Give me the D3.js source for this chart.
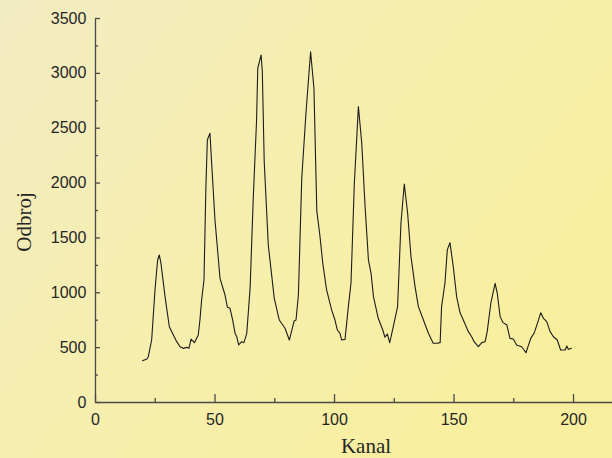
<!DOCTYPE html>
<html>
<head>
<meta charset="utf-8">
<script src="https://cdn.jsdelivr.net/npm/d3@7"></script>
<style>
  body { margin: 0; }
  svg { display: block; }
</style>
</head>
<body>
<script>
// kanali i odbroji, ocitani sa slike
const kanal = [19.7, 21.6, 22.3, 23.7, 25.1, 26.2, 26.9, 27.6, 29.3, 31.1, 32.1, 34.2, 35.6, 36.9, 38.4, 39.3,
  40.2, 41.6, 43.2, 43.9, 44.6, 45.6, 46.4, 47.0, 48.1, 48.8, 50.2, 52.3, 54.4, 55.4, 56.5, 57.6, 58.6, 59.3,
  60.1, 61.4, 62.3, 63.5, 64.9, 66.2, 67.6, 68.1, 69.5, 70.0, 70.8, 72.5, 75.0, 77.1, 79.5, 81.3, 83.3, 84.1,
  85.1, 86.5, 88.3, 90.2, 91.6, 92.8, 94.1, 95.3, 96.9, 99.0, 100.4, 101.4, 102.5, 103.2, 104.6, 106.0, 107.1,
  108.5, 110.2, 111.6, 113.0, 114.4, 115.5, 116.5, 118.5, 120.4, 121.3, 122.3, 123.3, 124.8, 126.6, 128.0,
  129.4, 130.8, 132.2, 133.9, 135.3, 137.4, 139.5, 141.5, 143.0, 144.4, 145.0, 146.4, 147.4, 148.5, 149.9,
  151.3, 152.7, 154.1, 156.2, 157.6, 158.6, 160.4, 161.8, 163.2, 164.1, 165.6, 167.4, 168.3, 169.5, 170.6,
  172.3, 173.6, 175.0, 176.4, 178.5, 180.3, 182.3, 183.7, 185.1, 186.5, 187.6, 189.0, 190.4, 191.8, 193.4,
  194.8, 196.7, 197.4, 198.0, 199.4];
const odbroj = [376, 389, 413, 565, 1021, 1294, 1340, 1264, 960, 686, 641, 550, 504, 489, 498, 489,
  574, 541, 611, 747, 930, 1112, 1962, 2388, 2449, 2176, 1659, 1127, 975, 863, 854, 747, 626, 595,
  520, 550, 541, 626, 1040, 1850, 2570, 3042, 3163, 3011, 2190, 1431, 945, 747, 672, 565, 738, 747,
  975, 2039, 2646, 3193, 2859, 1740, 1515, 1264, 1021, 839, 747, 656, 626, 565, 571, 869, 1082,
  1994, 2692, 2358, 1780, 1294, 1173, 960, 763, 656, 590, 620, 540, 686, 869, 1629,
  1987, 1720, 1325, 1051, 869, 747, 626, 535, 535, 541, 869, 1082, 1386, 1452, 1233,
  960, 815, 747, 641, 595, 550, 504, 541, 550, 641, 900, 1082, 991, 778, 726,
  702, 580, 574, 520, 504, 449, 580, 626, 717, 814, 763, 732, 641, 595, 565,
  474, 474, 510, 480, 489];

const xGlavni = [0, 50, 100, 150, 200];
const xSporedni = [25, 75, 125, 175];
const yGlavni = [0, 500, 1000, 1500, 2000, 2500, 3000, 3500];
const ySporedni = [250, 750, 1250, 1750, 2250, 2750, 3250];

const sirina = 612, visina = 458;

const svg = d3.select("body").append("svg")
  .attr("width", sirina)
  .attr("height", visina);

// pozadina - zuckasti papir
const defs = svg.append("defs");
const grad = defs.append("linearGradient")
  .attr("id", "papir")
  .attr("x1", "0%").attr("y1", "0%")
  .attr("x2", "100%").attr("y2", "60%");
grad.append("stop").attr("offset", "0%").attr("stop-color", "#f2ecc2");
grad.append("stop").attr("offset", "45%").attr("stop-color", "#f6eeb0");
grad.append("stop").attr("offset", "100%").attr("stop-color", "#f8ef9e");
svg.append("rect")
  .attr("width", sirina).attr("height", visina)
  .attr("fill", "url(#papir)");

const x = d3.scaleLinear()
  .domain([0, 216.3])
  .range([95, 612]);

const y = d3.scaleLinear()
  .domain([0, 3500])
  .range([402, 18]);

const bojaOsi = "#4a4a4a";

// x os
const gx = svg.append("g")
  .attr("transform", "translate(0,402)")
  .call(d3.axisBottom(x).tickValues(xGlavni).tickFormat(d3.format("d"))
    .tickSizeInner(-8).tickSizeOuter(0).tickPadding(12));
svg.append("g")
  .attr("transform", "translate(0,402)")
  .call(d3.axisBottom(x).tickValues(xSporedni).tickSizeInner(-4).tickSizeOuter(0).tickFormat(""))
  .select(".domain").remove();

// y os
const gy = svg.append("g")
  .attr("transform", "translate(95,0)")
  .call(d3.axisLeft(y).tickValues(yGlavni).tickFormat(d3.format("d"))
    .tickSizeInner(-5).tickSizeOuter(0).tickPadding(7));
svg.append("g")
  .attr("transform", "translate(95,0)")
  .call(d3.axisLeft(y).tickValues(ySporedni).tickSizeInner(-3).tickSizeOuter(0).tickFormat(""))
  .select(".domain").remove();

svg.selectAll(".domain, .tick line")
  .attr("stroke", bojaOsi)
  .attr("stroke-width", 1.3);
svg.selectAll(".tick text")
  .attr("fill", "#262626")
  .style("font-family", "'Liberation Sans', Arial, sans-serif")
  .style("font-size", "16px");
gy.selectAll(".tick text").attr("dx", "-0.1em");

// kriva
const linija = d3.line()
  .x((d, i) => x(kanal[i]))
  .y(d => y(d));

svg.append("path")
  .datum(odbroj)
  .attr("d", linija)
  .attr("fill", "none")
  .attr("stroke", "#1c1c1c")
  .attr("stroke-width", 1.1)
  .attr("stroke-linejoin", "round");

// nazivi osi
svg.append("text")
  .attr("x", 366)
  .attr("y", 453)
  .attr("text-anchor", "middle")
  .style("font-family", "'Liberation Serif', 'Times New Roman', serif")
  .style("font-size", "21px")
  .attr("fill", "#262626")
  .text("Kanal");

svg.append("text")
  .attr("transform", "translate(31,222) rotate(-90)")
  .attr("text-anchor", "middle")
  .style("font-family", "'Liberation Serif', 'Times New Roman', serif")
  .style("font-size", "21px")
  .attr("fill", "#262626")
  .text("Odbroj");
</script>
</body>
</html>
